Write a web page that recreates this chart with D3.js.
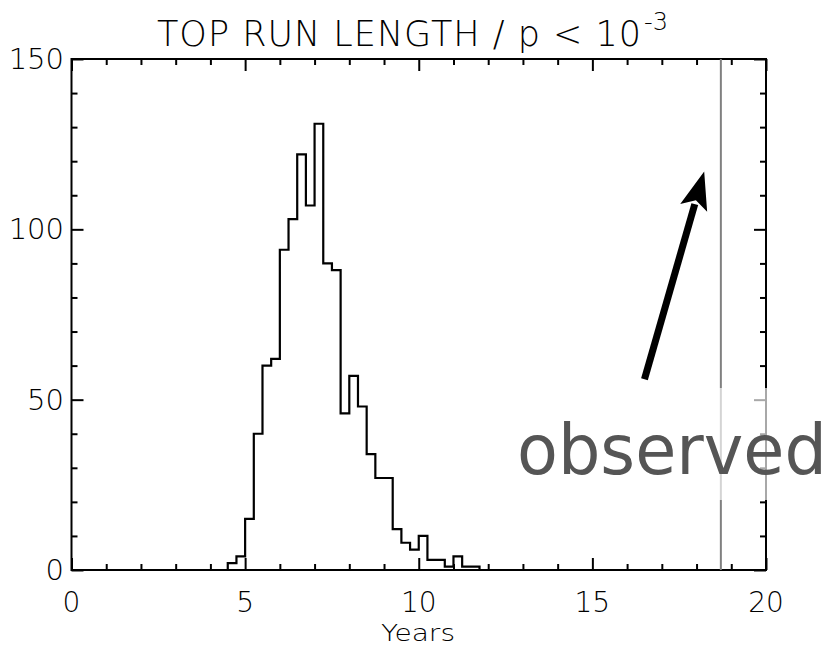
<!DOCTYPE html>
<html><head><meta charset="utf-8">
<script src="https://cdn.jsdelivr.net/npm/d3@7"></script>
<style>
html,body{margin:0;padding:0;background:#fff;}
svg text{font-family:"DejaVu Sans",sans-serif;}
</style></head>
<body><svg id="c" width="840" height="648"></svg>
<script>
// ---- data ----
const binStart = 4.5;
const binWidth = 0.25;
const counts = [2,4,15,40,60,62,94,103,122,107,131,90,88,46,57,48,34,27,27,12,8,6,10,3,3,1,4,1,1];
const xMajorTicks = [0,5,10,15,20];
const yMajorTicks = [0,50,100,150];
const observedValue = 18.7;
const arrowTail = [16.5, 56];
const arrowTip = [18.22, 117];
const titleMain = "TOP RUN LENGTH / p < 10";
const titleSup = "-3";
const xLabel = "Years";
const noteText = "observed";

const svg = d3.select("#c");
const L = 71.5, R = 766, T = 59, B = 570;
const x = d3.scaleLinear().domain([0,20]).range([L,R]);
const y = d3.scaleLinear().domain([0,150]).range([B,T]);

function drawAxis(axisGen, tx, ty){
  const g = svg.append("g").attr("transform",`translate(${tx},${ty})`).call(axisGen);
  g.select(".domain").remove();
  g.selectAll(".tick line").attr("stroke","#000").attr("stroke-width",2);
  g.selectAll(".tick text").remove();
  return g;
}
const xMinor = d3.range(0,21,1).filter(v=>v%5!==0);
const yMinor = d3.range(0,151,10).filter(v=>v%50!==0);
drawAxis(d3.axisTop(x).tickValues(xMajorTicks).tickSize(12), 0, B);
drawAxis(d3.axisTop(x).tickValues(xMinor).tickSize(6), 0, B);
drawAxis(d3.axisBottom(x).tickValues(xMajorTicks).tickSize(12), 0, T);
drawAxis(d3.axisBottom(x).tickValues(xMinor).tickSize(6), 0, T);
drawAxis(d3.axisRight(y).tickValues(yMajorTicks).tickSize(12), L, 0);
drawAxis(d3.axisRight(y).tickValues(yMinor).tickSize(6), L, 0);
drawAxis(d3.axisLeft(y).tickValues(yMajorTicks).tickSize(12), R, 0);
drawAxis(d3.axisLeft(y).tickValues(yMinor).tickSize(6), R, 0);

// frame
svg.append("rect").attr("x",L).attr("y",T).attr("width",R-L).attr("height",B-T)
  .attr("fill","none").attr("stroke","#000").attr("stroke-width",2);

// tick labels
svg.selectAll("text.xl").data(xMajorTicks).enter().append("text")
  .attr("x",d=>x(d)).attr("y",612).attr("text-anchor","middle")
  .attr("font-size",28).attr("font-weight",200).attr("fill","#000").text(d=>d);
svg.selectAll("text.yl").data(yMajorTicks).enter().append("text")
  .attr("x",64).attr("y",d=>y(d)+10).attr("text-anchor","end")
  .attr("font-size",29).attr("font-weight",200).attr("fill","#000").text(d=>d);

// x label
svg.append("text").attr("x",381).attr("y",641)
  .attr("font-size",23).attr("font-weight",200)
  .attr("textLength",74).attr("lengthAdjust","spacingAndGlyphs").text(xLabel);

// title
svg.append("text").attr("x",157).attr("y",46)
  .attr("font-size",35).attr("font-weight",200)
  .attr("textLength",484).attr("lengthAdjust","spacing").text(titleMain);
svg.append("text").attr("x",644).attr("y",30)
  .attr("font-size",24).attr("font-weight",200).text(titleSup);

// histogram
const pts = [[binStart,0]];
counts.forEach((c,i)=>{
  const x0 = binStart + i*binWidth;
  pts.push([x0,c]); pts.push([x0+binWidth,c]);
});
pts.push([binStart+counts.length*binWidth,0]);
svg.append("path").datum(pts)
  .attr("d",d3.line().x(d=>x(d[0])).y(d=>y(d[1])))
  .attr("fill","none").attr("stroke","#000").attr("stroke-width",2.2);

// observed line
svg.append("line").attr("x1",x(observedValue)).attr("x2",x(observedValue))
  .attr("y1",T).attr("y2",B).attr("stroke","#808080").attr("stroke-width",2);

// arrow
const ax0 = x(arrowTail[0]), ay0 = y(arrowTail[1]), ax1 = x(arrowTip[0]), ay1 = y(arrowTip[1]);
const ang = Math.atan2(ay1-ay0, ax1-ax0);
const headLen = 38, headW = 14;
const bx = ax1 - headLen*Math.cos(ang), by = ay1 - headLen*Math.sin(ang);
svg.append("line").attr("x1",ax0).attr("y1",ay0).attr("x2",bx+4*Math.cos(ang)).attr("y2",by+4*Math.sin(ang))
  .attr("stroke","#000").attr("stroke-width",7);
const px = -Math.sin(ang), py = Math.cos(ang);
svg.append("path").attr("d",`M${ax1},${ay1}L${bx+headW*px},${by+headW*py}L${bx+8*Math.cos(ang)},${by+8*Math.sin(ang)}L${bx-headW*px},${by-headW*py}Z`)
  .attr("fill","#000");

// observed label with translucent box
svg.append("rect").attr("x",512).attr("y",388).attr("width",328).attr("height",112)
  .attr("fill","#fff").attr("fill-opacity",0.66);
const obs = svg.append("text").attr("x",0).attr("y",0)
  .attr("font-family","Lato, 'Open Sans', sans-serif").attr("font-size",70)
  .attr("fill","#555").text(noteText);
const w = obs.node().getComputedTextLength();
obs.attr("transform",`translate(517,474) scale(${310/w},1)`);
</script></body></html>
